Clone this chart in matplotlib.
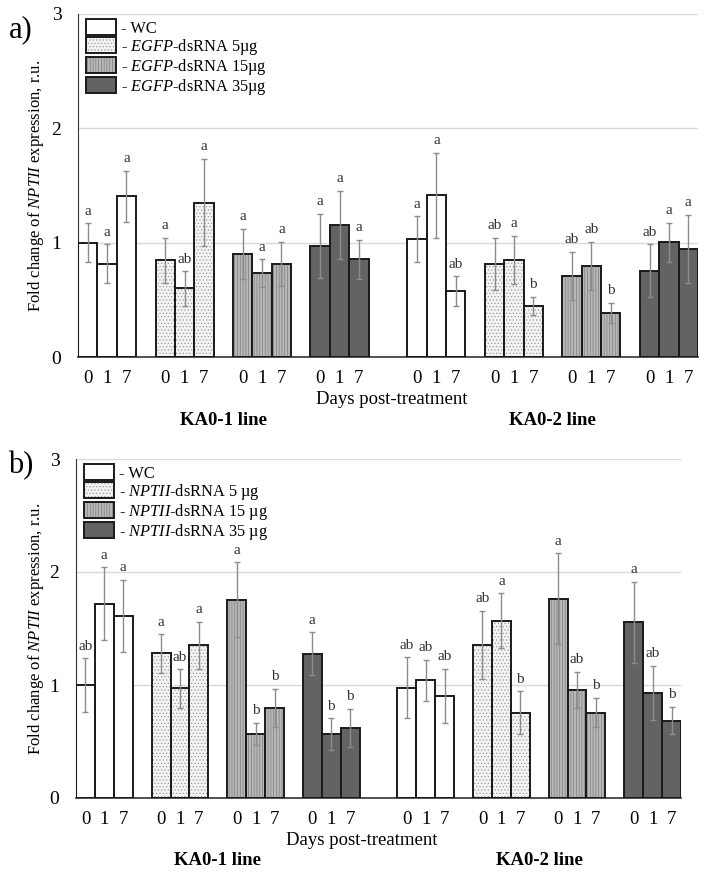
import matplotlib.pyplot as plt
from matplotlib.patches import Patch
from matplotlib.legend_handler import HandlerTuple

plt.rcParams['font.family'] = 'Liberation Serif'
plt.rcParams['mathtext.fontset'] = 'custom'
plt.rcParams['mathtext.rm'] = 'Liberation Serif'
plt.rcParams['mathtext.it'] = 'Liberation Serif:italic'
plt.rcParams['hatch.linewidth'] = 0.5

days = ['0', '1', '7']
line_names = ['KA0-1 line', 'KA0-2 line']

# values per treatment: KA0-1 (0, 1, 7 d) then KA0-2 (0, 1, 7 d)
# panel a: EGFP-dsRNA
a_wc = [1.00, 0.815, 1.405, 1.03, 1.415, 0.575]
a_wc_err = [0.17, 0.17, 0.22, 0.20, 0.37, 0.13]
a_wc_lab = ['a', 'a', 'a', 'a', 'a', 'ab']
a_5 = [0.845, 0.60, 1.35, 0.815, 0.85, 0.445]
a_5_err = [0.20, 0.15, 0.38, 0.23, 0.21, 0.08]
a_5_lab = ['a', 'ab', 'a', 'ab', 'a', 'b']
a_15 = [0.90, 0.735, 0.815, 0.71, 0.80, 0.385]
a_15_err = [0.22, 0.12, 0.19, 0.21, 0.21, 0.09]
a_15_lab = ['a', 'a', 'a', 'ab', 'ab', 'b']
a_35 = [0.97, 1.155, 0.855, 0.755, 1.005, 0.945]
a_35_err = [0.28, 0.30, 0.17, 0.23, 0.17, 0.30]
a_35_lab = ['a', 'a', 'a', 'ab', 'a', 'a']

# panel b: NPTII-dsRNA
b_wc = [1.00, 1.72, 1.61, 0.975, 1.04, 0.905]
b_wc_err = [0.235, 0.32, 0.32, 0.27, 0.18, 0.24]
b_wc_lab = ['ab', 'a', 'a', 'ab', 'ab', 'ab']
b_5 = [1.28, 0.97, 1.35, 1.355, 1.57, 0.755]
b_5_err = [0.17, 0.17, 0.21, 0.30, 0.24, 0.19]
b_5_lab = ['a', 'ab', 'a', 'ab', 'a', 'b']
b_15 = [1.755, 0.565, 0.795, 1.765, 0.955, 0.755]
b_15_err = [0.33, 0.10, 0.17, 0.40, 0.16, 0.13]
b_15_lab = ['a', 'b', 'b', 'a', 'ab', 'b']
b_35 = [1.275, 0.565, 0.62, 1.555, 0.93, 0.685]
b_35_err = [0.19, 0.14, 0.17, 0.36, 0.24, 0.12]
b_35_lab = ['a', 'b', 'b', 'a', 'ab', 'b']

a_labels = ['- WC', '- $\\it{EGFP}$-dsRNA 5µg', '- $\\it{EGFP}$-dsRNA 15µg', '- $\\it{EGFP}$-dsRNA 35µg']
b_labels = ['- WC', '- $\\it{NPTII}$-dsRNA 5 µg', '- $\\it{NPTII}$-dsRNA 15 µg', '- $\\it{NPTII}$-dsRNA 35 µg']

# fill, hatch, hatch colour for each treatment
styles = [
    ('white', '', 'white'),
    ('#f3f3f3', '.....', '#9a9a9a'),
    ('#b8b8b8', '||||||', '#7e7e7e'),
    ('#636363', '', '#636363'),
]


def draw_panel(ax, means, errs, labs, legend_labels, days_x, left_px):
    for t, (vals, err, lab) in enumerate(zip(means, errs, labs)):
        fc, hatch, hc = styles[t]
        xs = []
        for i in range(6):
            line = i // 3
            xs.append(line * 17 + t * 4 + (i % 3) + 0.5)
        ax.bar(xs, vals, width=1.0, color=fc, hatch=hatch, edgecolor=hc, linewidth=0, zorder=2)
        ax.bar(xs, vals, width=1.0, fill=False, edgecolor='#1a1a1a', linewidth=1.4, zorder=3)
        ax.errorbar(xs, vals, yerr=err, fmt='none', ecolor='#8c8c8c', elinewidth=1,
                    capsize=2.5, capthick=1, zorder=4)
        for x, v, e, s in zip(xs, vals, err, lab):
            ax.text(x, v + e + 0.05, s, ha='center', va='bottom', fontsize=11, color='#333333')

    ticks = []
    for line in range(2):
        for t in range(4):
            for d in range(3):
                ticks.append(line * 17 + t * 4 + d + 0.5)
    ax.set_xticks(ticks)
    ax.set_xticklabels(days * 8, fontsize=13.5)
    ax.set_xlim(0, 32)
    ax.set_ylim(0, 3)
    ax.set_yticks([0, 1, 2, 3])
    ax.set_yticklabels(['0', '1', '2', '3'], fontsize=14)
    ax.tick_params(length=0)
    ax.tick_params(axis='x', pad=9)
    ax.tick_params(axis='y', pad=12)
    ax.grid(axis='y', color='#d9d9d9', linewidth=1, zorder=0)
    ax.set_axisbelow(True)
    for side in ['top', 'right']:
        ax.spines[side].set_visible(False)
    ax.spines['left'].set_color('#333333')
    ax.spines['bottom'].set_color('#333333')
    ax.spines['bottom'].set_linewidth(1.2)
    ax.set_ylabel('Fold change of $\\it{NPTII}$ expression, r.u.', fontsize=12)
    ax.yaxis.set_label_coords(-(left_px - 46) / ax.bbox.width, 0.5)

    ax.text(days_x, -0.125, 'Days post-treatment', transform=ax.get_xaxis_transform(),
            ha='center', va='center', fontsize=13.5)
    ax.text(7.5, -0.185, line_names[0], transform=ax.get_xaxis_transform(),
            ha='center', va='center', fontsize=13.5, fontweight='bold')
    ax.text(24.5, -0.185, line_names[1], transform=ax.get_xaxis_transform(),
            ha='center', va='center', fontsize=13.5, fontweight='bold')

    handles = []
    for fc, hatch, hc in styles:
        handles.append((Patch(facecolor=fc, hatch=hatch, edgecolor=hc, linewidth=0),
                        Patch(fill=False, edgecolor='#1a1a1a', linewidth=1.4)))
    ax.legend(handles, legend_labels, handler_map={tuple: HandlerTuple(ndivide=1)},
              loc='upper left', bbox_to_anchor=(0.013, 0.985), frameon=False,
              fontsize=11.8, labelspacing=0.0, handlelength=1.85, handleheight=1.15,
              handletextpad=0.3, borderpad=0, borderaxespad=0)


fig = plt.figure(figsize=(7.06, 8.74), dpi=100)
ax_a = fig.add_axes([78 / 706, 1 - 357 / 874, 620 / 706, 343 / 874])
ax_b = fig.add_axes([76 / 706, 1 - 798 / 874, 605 / 706, 339 / 874])

draw_panel(ax_a, [a_wc, a_5, a_15, a_35], [a_wc_err, a_5_err, a_15_err, a_35_err],
           [a_wc_lab, a_5_lab, a_15_lab, a_35_lab], a_labels, 16.2, 78)
draw_panel(ax_b, [b_wc, b_5, b_15, b_35], [b_wc_err, b_5_err, b_15_err, b_35_err],
           [b_wc_lab, b_5_lab, b_15_lab, b_35_lab], b_labels, 15.1, 76)

fig.text(21 / 706, 1 - 30 / 874, 'a)', fontsize=22, ha='center', va='center')
fig.text(21 / 706, 1 - 466 / 874, 'b)', fontsize=22, ha='center', va='center')

fig.savefig('out.png', dpi=100)
